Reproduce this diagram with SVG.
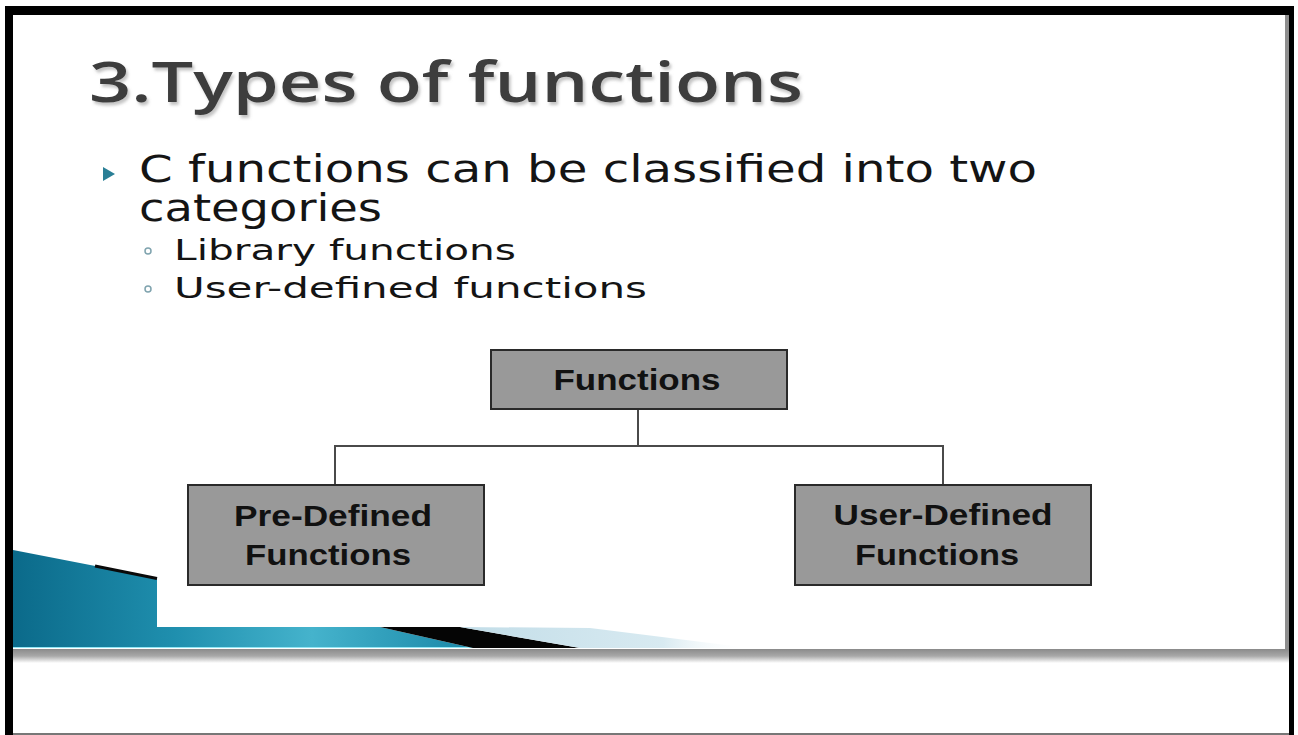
<svg xmlns="http://www.w3.org/2000/svg" width="1298" height="735" viewBox="0 0 1298 735">
<style>
.title{font-family:"Open Sans","Liberation Sans",sans-serif;font-size:56px;font-weight:600;fill:#3c3c3c}
.body{font-family:"DejaVu Sans","Liberation Sans",sans-serif;font-size:37px;fill:#141414}
.sub{font-family:"DejaVu Sans","Liberation Sans",sans-serif;font-size:28px;fill:#141414}
.box{fill:#999999;stroke:#2a2a2a;stroke-width:2}
.lbl{font-family:"Liberation Sans",Arial,sans-serif;font-weight:bold;font-size:30px;fill:#111111;text-anchor:middle}
.conn{fill:none;stroke:#4a4a4a;stroke-width:2}
</style>
<defs>
<filter id="tsh" x="-5%" y="-20%" width="110%" height="150%">
<feDropShadow dx="2" dy="3" stdDeviation="1.5" flood-color="#888888" flood-opacity="0.5"/>
</filter>
<linearGradient id="teal" x1="0" y1="0" x2="1" y2="0">
<stop offset="0" stop-color="#0b6a8a"/>
<stop offset="0.35" stop-color="#1f8fae"/>
<stop offset="0.65" stop-color="#45b3cc"/>
<stop offset="1" stop-color="#1a88a8"/>
</linearGradient>
<linearGradient id="pale" x1="0" y1="0" x2="1" y2="0">
<stop offset="0" stop-color="#c2dde8"/>
<stop offset="0.7" stop-color="#d8eaf1"/>
<stop offset="1" stop-color="#ffffff" stop-opacity="0"/>
</linearGradient>
<linearGradient id="shadowB" x1="0" y1="0" x2="0" y2="1">
<stop offset="0" stop-color="#8a8a8a"/>
<stop offset="0.5" stop-color="#a8a8a8"/>
<stop offset="1" stop-color="#ffffff"/>
</linearGradient>
</defs>
<rect x="0" y="0" width="1298" height="735" fill="#ffffff"/>
<!-- frame -->
<rect x="5" y="6" width="1289" height="9" fill="#000000"/>
<rect x="5" y="6" width="8" height="729" fill="#000000"/>
<rect x="1289" y="6" width="5" height="729" fill="#000000"/>
<rect x="1285" y="15" width="4" height="648" fill="#8e8e8e"/>
<rect x="13" y="649" width="1276" height="14" fill="url(#shadowB)"/>
<rect x="13" y="733" width="1276" height="2" fill="#777777"/>
<!-- decoration -->
<polygon points="13,550 157,578 157,627 380,627 473,648 13,648" fill="url(#teal)"/>
<line x1="95" y1="566" x2="157" y2="578.5" stroke="#0a0a0a" stroke-width="3"/>
<line x1="13" y1="647.5" x2="473" y2="647.5" stroke="#8fe6f4" stroke-width="1"/>
<polygon points="380,627 460,627 580,648 473,648" fill="#050505"/>
<polygon points="460,627 590,628 750,648 580,648" fill="url(#pale)"/>
<!-- title -->
<text class="title" x="89" y="102" textLength="714" lengthAdjust="spacingAndGlyphs" filter="url(#tsh)">3.Types of functions</text>
<!-- bullets -->
<polygon points="103,167 103,181 115,174" fill="#2a7f96"/>
<text class="body" x="139" y="182" textLength="898" lengthAdjust="spacingAndGlyphs">C functions can be classified into two</text>
<text class="body" x="139" y="221" textLength="243" lengthAdjust="spacingAndGlyphs">categories</text>
<circle cx="148" cy="251" r="3" fill="none" stroke="#7fa3ae" stroke-width="1.5"/>
<text class="sub" x="174" y="260" textLength="342" lengthAdjust="spacingAndGlyphs">Library functions</text>
<circle cx="148" cy="289" r="3" fill="none" stroke="#7fa3ae" stroke-width="1.5"/>
<text class="sub" x="174" y="298" textLength="473" lengthAdjust="spacingAndGlyphs">User-defined functions</text>
<!-- connectors -->
<g id="connectors">
<path class="conn" d="M638,409 V446 M335,485 V446 H943 V485"/>
</g>
<g id="node-functions">
<rect class="box" x="491" y="350" width="296" height="59"/>
<text class="lbl" x="637" y="390" textLength="167" lengthAdjust="spacingAndGlyphs">Functions</text>
</g>
<g id="node-predefined">
<rect class="box" x="188" y="485" width="296" height="100"/>
<text class="lbl" x="333" y="526" textLength="198" lengthAdjust="spacingAndGlyphs">Pre-Defined</text>
<text class="lbl" x="328" y="565" textLength="166" lengthAdjust="spacingAndGlyphs">Functions</text>
</g>
<g id="node-userdefined">
<rect class="box" x="795" y="485" width="296" height="100"/>
<text class="lbl" x="943" y="525" textLength="219" lengthAdjust="spacingAndGlyphs">User-Defined</text>
<text class="lbl" x="937" y="565" textLength="164" lengthAdjust="spacingAndGlyphs">Functions</text>
</g>
</svg>
